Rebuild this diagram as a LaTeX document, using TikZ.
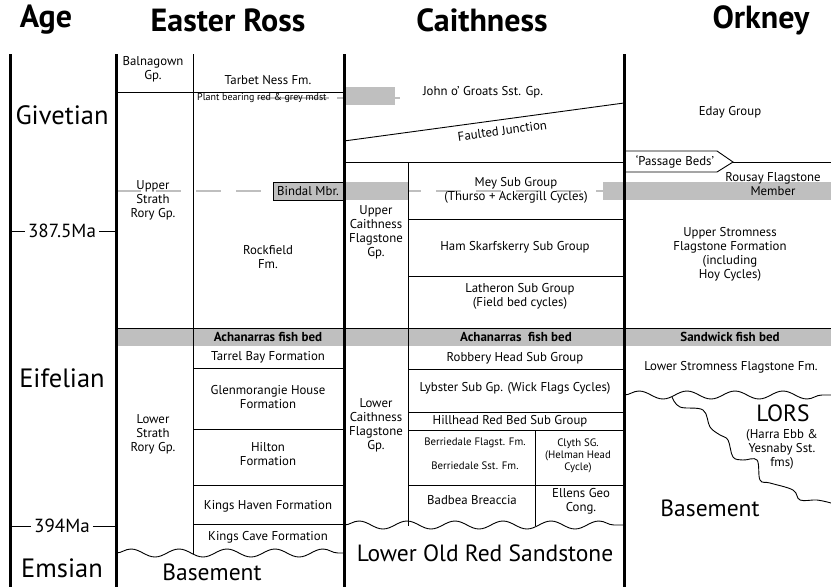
\documentclass[tikz,border=0pt]{standalone}
\usepackage{fontspec}
\setmainfont{PT Sans}
\usetikzlibrary{decorations.pathmorphing}
\definecolor{bandgrey}{gray}{0.75}
\tikzset{
	hdr/.style={font=\fontsize{32}{36}\selectfont\bfseries, inner sep=0pt},
	age/.style={font=\fontsize{26.5}{30}\selectfont, inner sep=0pt},
	ma/.style={font=\fontsize{19}{22}\selectfont, inner sep=3pt},
	lbl/.style={font=\fontsize{12.8}{14}\selectfont, align=center, inner sep=0pt},
	small/.style={font=\fontsize{10.8}{12}\selectfont, align=center, inner sep=0pt},
	tiny/.style={font=\fontsize{10}{11}\selectfont, inner sep=0pt},
	fish/.style={font=\fontsize{13}{14}\selectfont\bfseries, inner sep=0pt},
	big/.style={font=\fontsize{23.5}{27}\selectfont, align=center, inner sep=0pt},
	column/.style={line width=3pt},
	unit/.style={line width=0.9pt},
	band/.style={fill=bandgrey, draw=none},
	corr/.style={bandgrey, line width=2.2pt, dash pattern=on 25pt off 15pt},
	wavy/.style={line width=0.9pt, decorate, decoration={snake, amplitude=4pt, segment length=48pt}}
}
\begin{document}
\begin{tikzpicture}[x=1pt, y=-1pt]
			%%%%% START %%%%%
			\useasboundingbox (0,0) rectangle (831,587);
			
			% grey bands
			\draw[band] (116,328) rectangle (831,346);
			\draw[corr] (116,191) -- (603,191);
			\draw[bandgrey, line width=2pt] (257,98) -- (329,98) (337,98) -- (400,98);
			\draw[band] (345,87) rectangle (395,105);
			\draw[band] (345,182) rectangle (408,200);
			\draw[band] (603,182) rectangle (831,200);
			\draw[fill=bandgrey, line width=0.7pt] (273,182) rectangle (343,200);
			\node[lbl] (bindal) at (308,191) {Bindal Mbr.};
			
			% headings
			\node[hdr] (hAge) at (46,20) {Age};
			\node[hdr] (hRoss) at (228,20) {Easter Ross};
			\node[hdr] (hCaith) at (482,20) {Caithness};
			\node[hdr] (hOrk) at (761,20) {Orkney};
			
			% age column
			\node[age] (givetian) at (62,115) {Givetian};
			\node[ma] (ma387) at (62,231) {387.5Ma};
			\draw[unit] (10,231) -- (ma387.west);
			\draw[unit] (ma387.east) -- (116,231);
			\node[age] (eifelian) at (62,378) {Eifelian};
			\node[ma] (ma394) at (62,526) {394Ma};
			\draw[unit] (10,526) -- (ma394.west);
			\draw[unit] (ma394.east) -- (116,526);
			\node[age] (emsian) at (62,568) {Emsian};
			
			% Easter Ross
			\draw[unit] (116,92) -- (343,92);
			\draw[unit] (116,328) -- (343,328);
			\draw[unit] (193,368) -- (343,368);
			\draw[unit] (193,429) -- (343,429);
			\draw[unit] (193,485) -- (343,485);
			\draw[unit] (193,524) -- (343,524);
			\draw[unit] (193,54) -- (193,554);
			\draw[wavy] (116,553) -- (343,553);
			\node[lbl] (balnagown) at (153,69) {Balnagown\\Gp.};
			\node[lbl] (tarbet) at (268,80) {Tarbet Ness Fm.};
			\node[tiny, anchor=west] (plant) at (197,98) {Plant bearing red \& grey mdst};
			\node[lbl] (upperSR) at (153,200) {Upper\\Strath\\Rory Gp.};
			\node[lbl] (rockfield) at (268,257) {Rockfield\\Fm.};
			\node[fish] (achRoss) at (268,337) {Achanarras fish bed};
			\node[lbl] (tarrel) at (268,357) {Tarrel Bay Formation};
			\node[lbl] (glenmorangie) at (268,397) {Glenmorangie House\\Formation};
			\node[lbl] (hilton) at (268,454) {Hilton\\Formation};
			\node[lbl] (kingsHaven) at (268,506) {Kings Haven Formation};
			\node[lbl] (kingsCave) at (268,537) {Kings Cave Formation};
			\node[lbl] (lowerSR) at (153,434) {Lower\\Strath\\Rory Gp.};
			\node[big] (basementRoss) at (212,572) {Basement};
			
			% Caithness
			\coordinate (fjL) at (344,141);
			\coordinate (fjR) at (624,103);
			\draw[unit] (fjL) -- (fjR) node[lbl, pos=0.56, sloped, below=6pt] (faulted) {Faulted Junction};
			\draw[unit] (344,162) -- (831,162);
			\draw[unit] (344,328) -- (831,328);
			\draw[unit] (408,219) -- (624,219);
			\draw[unit] (408,276) -- (624,276);
			\draw[unit] (408,369) -- (624,369);
			\draw[unit] (408,412) -- (624,412);
			\draw[unit] (408,430) -- (624,430);
			\draw[unit] (408,485) -- (624,485);
			\draw[unit] (408,162) -- (408,526);
			\draw[unit] (535,430) -- (535,526);
			\draw[wavy] (344,525) -- (624,525);
			\node[lbl] (johnOG) at (483,92) {John o' Groats Sst. Gp.};
			\node[lbl] (upperCF) at (376,232) {Upper\\Caithness\\Flagstone\\Gp.};
			\node[lbl] (mey) at (516,190) {Mey Sub Group\\(Thurso + Ackergill Cycles)};
			\node[lbl] (ham) at (515,247) {Ham Skarfskerry Sub Group};
			\node[lbl] (latheron) at (520,296) {Latheron Sub Group\\(Field bed cycles)};
			\node[fish] (achCaith) at (516,337) {Achanarras\ \ fish bed};
			\node[lbl] (robbery) at (515,358) {Robbery Head Sub Group};
			\node[lbl] (lybster) at (515,388) {Lybster Sub Gp. (Wick Flags Cycles)};
			\node[lbl] (hillhead) at (510,421) {Hillhead Red Bed Sub Group};
			\node[lbl] (lowerCF) at (376,425) {Lower\\Caithness\\Flagstone\\Gp.};
			\node[small] (berrFlag) at (475,443) {Berriedale Flagst. Fm.};
			\node[small] (berrSst) at (475,466) {Berriedale Sst. Fm.};
			\node[small] (clyth) at (578,456) {Clyth SG.\\(Helman Head\\Cycle)};
			\node[lbl] (badbea) at (472,500) {Badbea Breaccia};
			\node[lbl] (ellens) at (581,501) {Ellens Geo\\Cong.};
			\node[big] (lors) at (485,553) {Lower Old Red Sandstone};
			
			% Orkney
			\draw[unit, fill=white] (624,151) -- (717,151) -- (733,162) -- (717,172) -- (624,172);
			\draw[wavy] (624,395) -- (831,395);
			\draw[unit] plot[smooth, tension=0.6] coordinates {(672,397) (680,407) (703,410) (710,427) (720,435) (728,440) (733,457) (743,460) (757,460) (760,480) (770,483) (793,490) (800,500) (817,500) (831,503)};
			\node[lbl] (eday) at (730,112) {Eday Group};
			\node[lbl] (passage) at (675,162) {`Passage Beds'};
			\node[lbl] (rousay) at (773,184) {Rousay Flagstone\\Member};
			\node[lbl] (upperStrom) at (730,254) {Upper Stromness\\Flagstone Formation\\(including\\Hoy Cycles)};
			\node[fish] (sandwick) at (730,337) {Sandwick fish bed};
			\node[lbl] (lowerStrom) at (731,367) {Lower Stromness Flagstone Fm.};
			\node[big] (orkLORS) at (783,413) {LORS};
			\node[lbl] (harra) at (782,449) {(Harra Ebb \&\\Yesnaby Sst.\\fms)};
			\node[big] (basementOrk) at (710,508) {Basement};
			
			% column walls
			\draw[column] (10,54) -- (10,587);
			\draw[column] (116,54) -- (116,587);
			\draw[column] (344,54) -- (344,587);
			\draw[column] (624,54) -- (624,587);
			%%%%% END %%%%%
\end{tikzpicture}
\end{document}
